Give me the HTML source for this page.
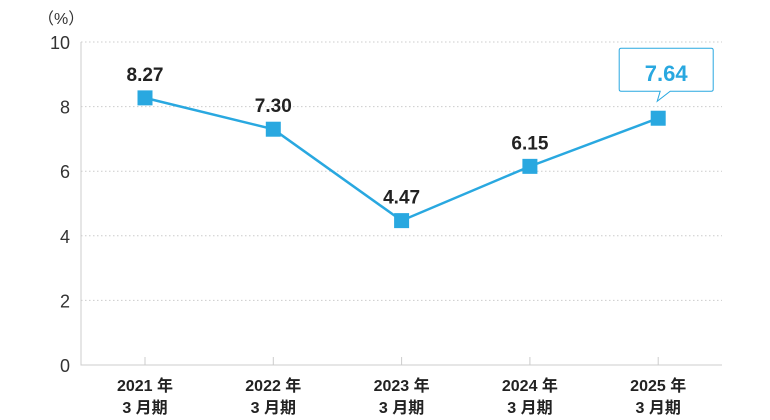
<!DOCTYPE html>
<html><head><meta charset="utf-8"><style>
body{margin:0;background:#fff}
svg{display:block;font-family:"Liberation Sans","Noto Sans CJK JP",sans-serif}
</style></head><body>
<svg id="c" width="770" height="420"></svg>
<script>
const categories=["2021 年","2022 年","2023 年","2024 年","2025 年"];
const subLabels=["3 月期","3 月期","3 月期","3 月期","3 月期"];
const values=[8.27,7.30,4.47,6.15,7.64];
const valueLabels=["8.27","7.30","4.47","6.15","7.64"];
const yTicks=[0,2,4,6,8,10];
const NS="http://www.w3.org/2000/svg";
const svg=document.getElementById('c');
const x0=81,x1=722,yTop=42,yBot=365;
const y=v=>yBot-(v/10)*(yBot-yTop);
const xc=i=>145+i*128.3;
function mk(t,a,p){const e=document.createElementNS(NS,t);for(const k in a)e.setAttribute(k,a[k]);(p||svg).appendChild(e);return e;}
const unit=mk('text',{x:38,y:24,'font-size':16,fill:'#333'});unit.textContent='（%）';


yTicks.forEach(t=>{
  if(t>0){const g=mk('line',{x1:x0,x2:x1,y1:y(t),y2:y(t),stroke:'#ccc','stroke-dasharray':'1.5,2.5'});
  
  }
  const l=mk('text',{x:70,y:y(t)+7,'font-size':18,'text-anchor':'end',fill:'#333'});l.textContent=t;
  
  
});
const ax=mk('path',{d:`M${x0} ${yTop}V${yBot}H${x1}`,stroke:'#ccc',fill:'none','stroke-width':1});


categories.forEach((c,i)=>{
  const tk=mk('line',{x1:xc(i),x2:xc(i),y1:yBot-8,y2:yBot,stroke:'#ccc'});
  
  
  const t=mk('text',{x:xc(i),y:391,'font-size':16,'font-weight':'bold','text-anchor':'middle',fill:'#222'});t.textContent=c;
  
  
  const s=mk('text',{x:xc(i),y:413,'font-size':16,'font-weight':'bold','text-anchor':'middle',fill:'#222'});s.textContent=subLabels[i];
  
  
});
const line=mk('polyline',{points:values.map((v,i)=>xc(i)+','+y(v)).join(' '),fill:'none',stroke:'#29a8e0','stroke-width':2.5});


values.forEach((v,i)=>{
  const m=mk('rect',{x:xc(i)-7.5,y:y(v)-7.5,width:15,height:15,fill:'#29a8e0'});
  
  
  const last=i===values.length-1;
  if(last){
    const cy=y(v);
    const b=mk('path',{d:`M${xc(i)-37} ${cy-70}H${xc(i)+53}Q${xc(i)+55} ${cy-70} ${xc(i)+55} ${cy-68}V${cy-29}Q${xc(i)+55} ${cy-27} ${xc(i)+53} ${cy-27}H${xc(i)+12}L${xc(i)-1} ${cy-17}L${xc(i)+2} ${cy-27}H${xc(i)-37}Q${xc(i)-39} ${cy-27} ${xc(i)-39} ${cy-29}V${cy-68}Q${xc(i)-39} ${cy-70} ${xc(i)-37} ${cy-70}Z`,fill:'#fff',stroke:'#29a8e0','stroke-width':1});
    
    
  }
  const t=mk('text',{x:last?xc(i)+8:xc(i),y:last?y(v)-37:y(v)-17,'font-size':last?22:19,'font-weight':'bold','text-anchor':'middle',fill:last?'#29a8e0':'#222'});
  t.textContent=valueLabels[i];
  
  
});
</script>
</body></html>
